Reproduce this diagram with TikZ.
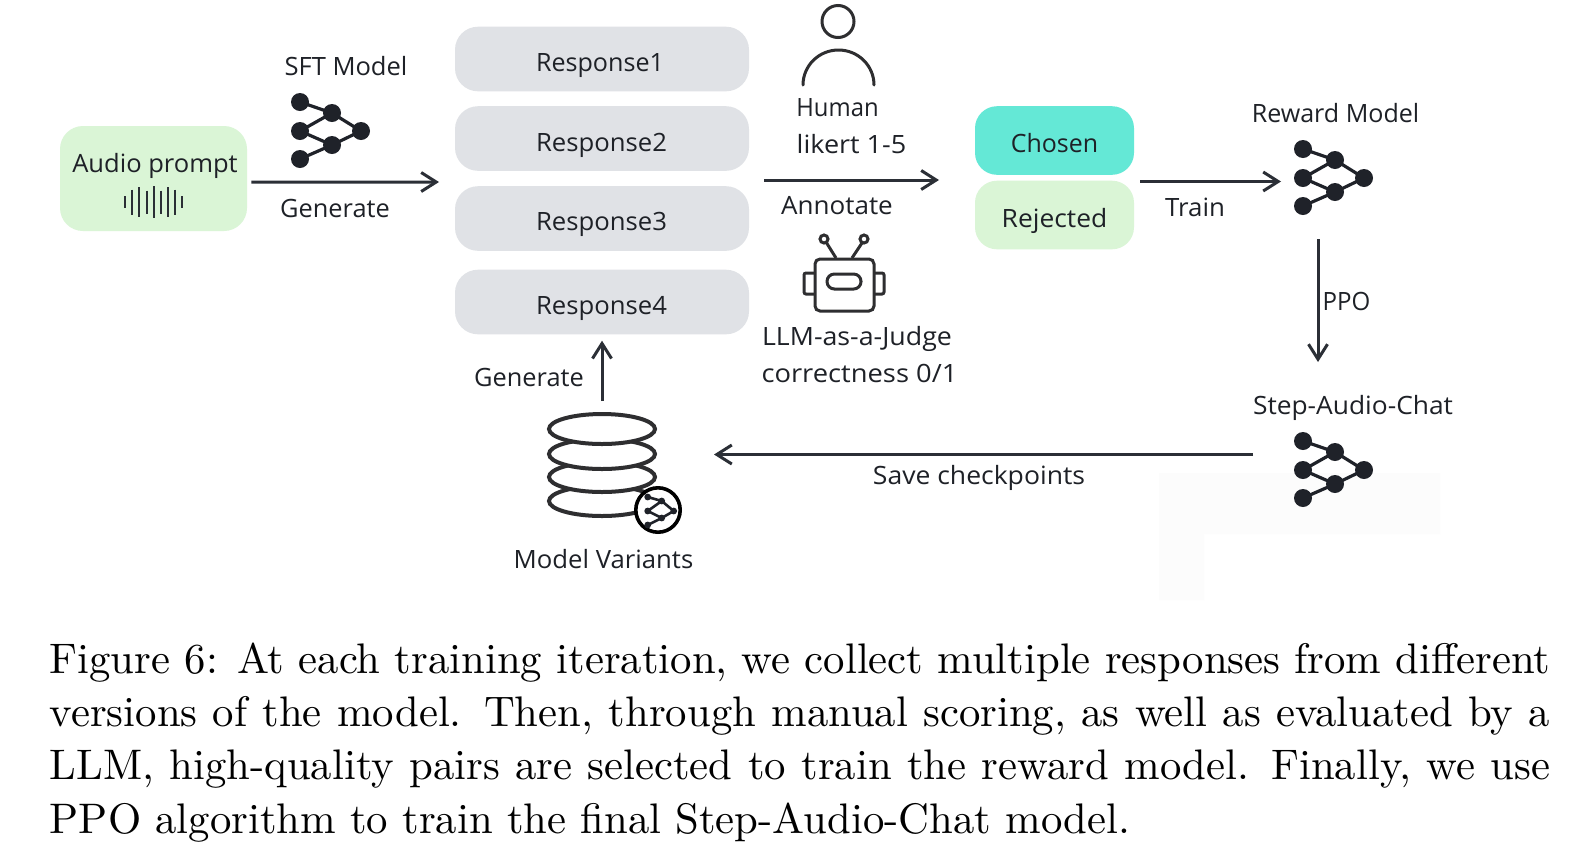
\documentclass[tikz,border=0pt]{standalone}
\usepackage{fontspec}
\setsansfont{Open Sans}
\usetikzlibrary{arrows.meta}
\definecolor{ink}{HTML}{2B2F36}
\definecolor{txt}{HTML}{1E2127}
\definecolor{dotc}{HTML}{1F2229}
\definecolor{grn}{HTML}{DAF5D6}
\definecolor{gry}{HTML}{E0E2E6}
\definecolor{teal}{HTML}{64E8D6}
\definecolor{stk}{HTML}{2E2E30}
\newcommand{\lab}[5]{\node[lbl] (#1) at (#2,#3) {\resizebox{\dimexpr #4pt*1015/2000\relax}{\height}{#5}};}
\tikzset{
 lbl/.style={font=\sffamily\fontsize{12.6}{15}\selectfont,text=txt,inner sep=0pt,anchor=base},
 resp/.style={fill=gry,rounded corners=11.5pt,minimum width=147pt,minimum height=32.3pt,inner sep=0pt},
 pill/.style={rounded corners=11pt,minimum width=79.5pt,minimum height=34.3pt,inner sep=0pt},
 arr/.style={draw=ink,line width=1.5pt,-{Straight Barb[length=7.5pt,width=9.5pt,line width=1.5pt]}},
 icon/.style={draw=stk,line width=1.5pt},
 dotn/.style={circle,fill=dotc,minimum size=#1,inner sep=0pt},
 dotn/.default=9pt,
 net/.pic={
  \path[draw=dotc,line width=1.6pt] (0,-29)--(32,-18)--(0,0)--(32,14)--(0,28) (32,-18)--(61,0)--(32,14);
  \foreach \a/\b in {0/-29,32/-18,0/0,61/0,32/14,0/28}\node[dotn] at (\a,\b) {};
 },
 mininet/.pic={
  \path[draw=dotc,line width=1.3pt] (0,-14)--(14,-10)--(0,0)--(14,7)--(0,14) (14,-10)--(26,0)--(14,7);
  \foreach \a/\b in {0/-14,14/-10,0/0,26/0,14/7,0/14}\node[dotn=3.4pt] at (\a,\b) {};
 }
}
\begin{document}
\begin{tikzpicture}[x=0.5pt,y=-0.5pt]
\useasboundingbox (0,0) rectangle (1578,858);
\fill[white] (0,0) rectangle (1578,858);
% faint patch
\fill[black!1.3] (1159,473) rectangle (1440,534) (1159,534) rectangle (1204,600);
% prompt
\node[fill=grn,rounded corners=11.5pt,minimum width=93.5pt,minimum height=52.5pt,inner sep=0pt] (prompt) at (153.5,178.5) {};
\lab{prompttxt}{155}{172}{163}{Audio prompt}
\foreach \x/\h in {125/12,132/25,139/30,147/23,154/32,161/23,168/30,175/25,182/12}
  \draw[ink,line width=1.4pt] (\x,202-\h/2)--(\x,202+\h/2);
\pic at (300,131) {net};
\lab{sft}{346}{75}{121}{SFT Model}
\lab{gen1}{335}{217}{108}{Generate}
\coordinate (a1e) at (439,182);
\draw[arr] ([xshift=2pt,yshift=-1.8pt]prompt.east)--(a1e);
% responses
\node[resp] (r1) at (602,59) {}; \lab{t1}{600}{71}{126}{Response1}
\node[resp] (r2) at (602,138.5) {}; \lab{t2}{601.5}{151}{129}{Response2}
\node[resp] (r3) at (602,218.5) {}; \lab{t3}{601.5}{230}{129}{Response3}
\node[resp] (r4) at (602,302) {}; \lab{t4}{601.5}{314}{129}{Response4}
% human
\draw[icon] (838,21.5) circle (16);
\draw[icon,line cap=round] (803,85) arc[start angle=180,end angle=360,x radius=35.5,y radius=35];
\lab{hum}{837.5}{116}{81}{Human}
\lab{lik}{851.5}{153}{108}{likert 1-5}
\coordinate (a2s) at (764,180); \coordinate (a2e) at (939,180);
\draw[arr] (a2s)--(a2e);
\lab{ann}{837}{214}{110}{Annotate}
% robot
\draw[icon,rounded corners=2.5pt] (815,259) rectangle (874,311);
\draw[icon,rounded corners=1pt] (815,273) -- (804,273) -- (804,294) -- (815,294);
\draw[icon,rounded corners=1pt] (874,273) -- (884,273) -- (884,294) -- (874,294);
\draw[icon,rounded corners=3.7pt] (827,274) rectangle (861,289);
\draw[icon] (836,258)--(826,242) (852,258)--(862,243);
\draw[icon] (824,239) circle (4) (864,239) circle (4);
\lab{llm}{857}{345}{187}{LLM-as-a-Judge}
\lab{cor}{859.5}{382}{193}{correctness 0/1}
% chosen
\node[fill=teal,pill] (chosen) at (1054.5,140.5) {};
\lab{cho}{1054.5}{152}{86}{Chosen}
\node[fill=grn,pill] (rej) at (1054.5,215) {};
\lab{rejt}{1054.5}{227}{104}{Rejected}
\coordinate (a3s) at (1140,181.5); \coordinate (a3e) at (1281,181.5);
\draw[arr] (a3s)--(a3e);
\lab{train}{1195}{216}{59}{Train}
\pic at (1303,178) {net};
\lab{rew}{1335.5}{122}{165}{Reward Model}
\coordinate (a4s) at (1318,239); \coordinate (a4e) at (1318,362);
\draw[arr] (a4s)--(a4e);
\lab{ppo}{1346.5}{310}{47}{PPO}
\lab{step}{1353}{414}{197}{Step-Audio-Chat}
\pic at (1303,470) {net};
\coordinate (a5s) at (1253,454.5); \coordinate (a5e) at (714,454.5);
\draw[arr] (a5s)--(a5e);
\lab{save}{979}{484}{209}{Save checkpoints}
% stack
\foreach \y in {501,477,454,429} \draw[stk,line width=2pt,fill=white] (602,\y) ellipse (53 and 15);
\node[circle,draw=black,line width=1.8pt,fill=white,minimum size=22.2pt,inner sep=0pt] (badge) at (658,510) {};
\pic at (647.7,511) {mininet};
\lab{mv}{603.5}{568.5}{177}{Model Variants}
\coordinate (a6s) at (602,401);
\draw[arr] (a6s)--([yshift=-3pt]r4.south);
\lab{gen2}{529}{386}{108}{Generate}
% caption
\node[scale=2.136,transform shape,font=\fontsize{10}{12.45}\selectfont,text width=351.2pt,align=justify,inner sep=0pt,anchor=north west,text=black] (cap) at (49,642) {Figure 6: At each training iteration, we collect multiple responses from different\linebreak versions of the model. Then, through manual scoring, as well as evaluated by a\linebreak LLM, high-quality pairs are selected to train the reward model. Finally, we use\linebreak PPO algorithm to train the final Step-Audio-Chat model.};
\end{tikzpicture}
\end{document}
